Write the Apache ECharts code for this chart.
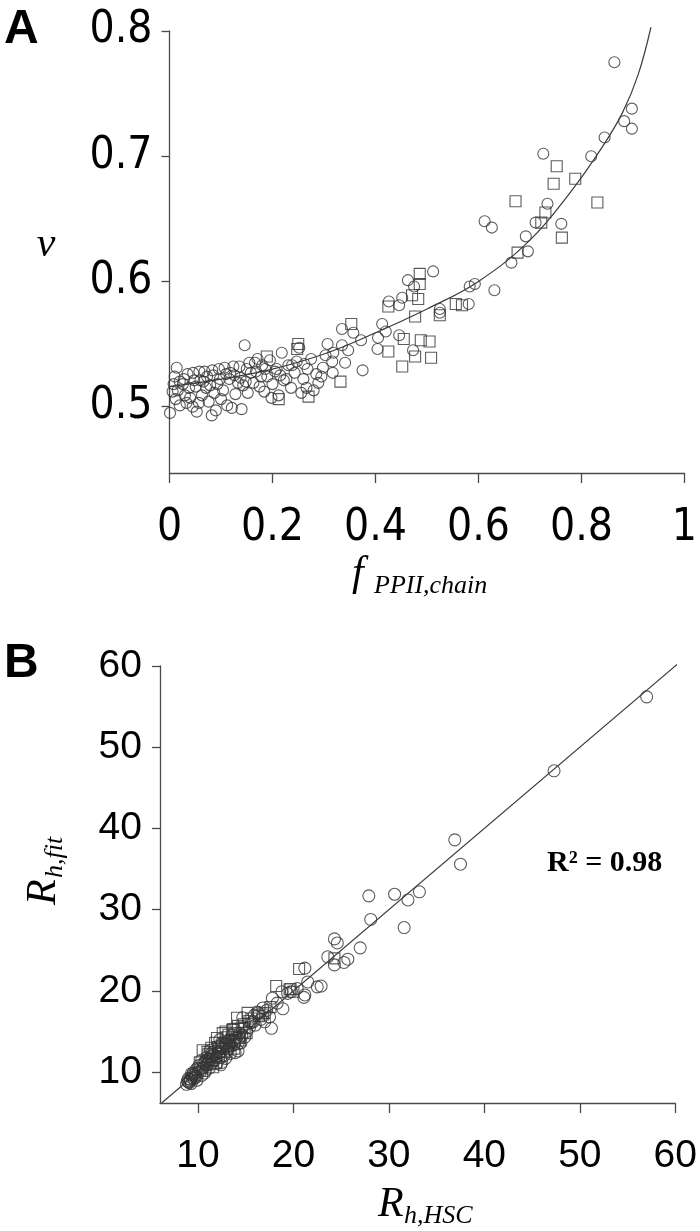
<!DOCTYPE html>
<html>
<head>
<meta charset="utf-8">
<script src="https://cdn.jsdelivr.net/npm/echarts@6/dist/echarts.min.js"></script>
<style>
html,body{margin:0;padding:0;background:#fff;}
#chart{width:700px;height:1231px;}
</style>
</head>
<body>
<div id="chart"></div>
<script>
// ---------- Panel A data: nu vs f_PPII,chain ----------
const panelA_circles = [
 [0.001,0.495],[0.014,0.531],[0.010,0.524],[0.006,0.512],[0.012,0.506],[0.020,0.520],[0.026,0.518],[0.035,0.526],
 [0.040,0.507],[0.046,0.527],[0.053,0.496],[0.051,0.516],[0.058,0.528],[0.063,0.509],[0.068,0.528],[0.071,0.515],
 [0.076,0.504],[0.082,0.493],[0.083,0.529],[0.087,0.511],[0.093,0.518],[0.096,0.530],[0.100,0.506],[0.104,0.513],
 [0.107,0.531],[0.112,0.501],[0.116,0.522],[0.121,0.499],[0.124,0.532],[0.128,0.510],[0.133,0.519],[0.136,0.532],
 [0.140,0.498],[0.143,0.517],[0.146,0.549],[0.150,0.530],[0.152,0.511],[0.158,0.527],[0.163,0.519],[0.166,0.535],
 [0.171,0.538],[0.175,0.516],[0.180,0.533],[0.184,0.512],[0.190,0.524],[0.195,0.537],[0.200,0.518],[0.205,0.528],
 [0.208,0.530],[0.212,0.509],[0.218,0.543],[0.222,0.521],[0.227,0.522],[0.231,0.533],[0.236,0.515],[0.243,0.527],
 [0.247,0.536],[0.252,0.547],[0.256,0.511],[0.260,0.522],[0.266,0.515],[0.268,0.530],[0.275,0.538],[0.285,0.526],
 [0.289,0.519],[0.295,0.524],[0.303,0.541],[0.307,0.550],[0.316,0.536],[0.317,0.527],[0.318,0.543],[0.335,0.549],
 [0.335,0.562],[0.341,0.535],[0.347,0.545],[0.357,0.559],[0.372,0.553],[0.375,0.529],[0.404,0.546],[0.405,0.555],
 [0.413,0.566],[0.420,0.560],[0.426,0.584],[0.446,0.581],[0.446,0.557],[0.452,0.587],[0.463,0.601],[0.473,0.545],
 [0.475,0.596],[0.512,0.608],[0.525,0.578],[0.525,0.575],[0.581,0.582],[0.583,0.596],[0.593,0.598],[0.612,0.648],
 [0.626,0.643],[0.631,0.593],[0.664,0.615],[0.692,0.636],[0.696,0.624],[0.711,0.647],[0.726,0.702],[0.734,0.662],
 [0.761,0.646],[0.819,0.700],[0.845,0.715],[0.864,0.775],[0.883,0.728],[0.898,0.738],[0.898,0.722],
 [0.020,0.501],[0.030,0.509],[0.045,0.500],[0.090,0.497],[0.060,0.521],[0.118,0.527],[0.178,0.524],[0.198,0.507],
 [0.008,0.518],[0.016,0.513],[0.028,0.522],[0.038,0.515],[0.048,0.521],[0.066,0.520],[0.073,0.524],[0.079,0.517],
 [0.085,0.525],[0.098,0.522],[0.110,0.526],[0.126,0.525],[0.138,0.523],[0.148,0.520],[0.155,0.535],[0.168,0.528],
 [0.186,0.530],[0.215,0.525],[0.238,0.533],[0.262,0.534],[0.280,0.513],[0.298,0.531],[0.033,0.503],[0.057,0.503]
];
const panelA_squares = [
 [0.189,0.540],[0.212,0.506],[0.250,0.550],[0.248,0.546],[0.270,0.508],[0.332,0.520],[0.353,0.566],[0.425,0.580],
 [0.425,0.544],[0.455,0.554],[0.452,0.532],[0.471,0.589],[0.477,0.572],[0.477,0.540],[0.483,0.586],[0.486,0.606],
 [0.486,0.598],[0.488,0.553],[0.505,0.552],[0.508,0.539],[0.525,0.573],[0.556,0.582],[0.568,0.581],[0.672,0.664],
 [0.676,0.623],[0.722,0.647],[0.730,0.655],[0.746,0.678],[0.752,0.692],[0.762,0.635],[0.788,0.682],[0.831,0.663]
];
const panelA_fitF  = [0, 0.1, 0.2, 0.3, 0.4, 0.5, 0.6, 0.7, 0.78, 0.84, 0.88, 0.91, 0.935];
const panelA_fitNu = [0.516, 0.522, 0.530, 0.542, 0.559, 0.578, 0.600, 0.633, 0.672, 0.707, 0.735, 0.765, 0.803];
const panelA_xTicks = [0, 0.2, 0.4, 0.6, 0.8, 1];
const panelA_xLabels = ['0', '0.2', '0.4', '0.6', '0.8', '1'];
const panelA_yTicks = [0.5, 0.6, 0.7, 0.8];
const panelA_yLabels = ['0.5', '0.6', '0.7', '0.8'];

// ---------- Panel B data: R_h,fit vs R_h,HSC ----------
const panelB_circles = [
 [57.0,56.2],[47.3,47.1],[36.9,38.6],[37.5,35.6],[27.9,31.7],[30.6,31.9],[32.0,31.2],[33.2,32.2],[28.1,28.8],
 [31.6,27.8],[24.3,26.4],[24.6,25.9],[27.0,25.3],[23.6,24.2],[24.3,23.2],[25.7,23.9],[21.2,22.8],[21.5,21.1],
 [22.5,20.5],[22.9,20.6],[21.2,19.5],[19.4,19.7],[21.1,19.2],[18.8,19.9],[17.8,19.1],[18.3,18.5],[17.7,15.4],
 [17.5,16.8],[16.8,17.9],[16.2,17.4],[14.7,16.7],[15.8,16.2],[15.4,15.5],[14.4,14.8],[14.2,12.6],[12.5,11.2],
 [13.1,12.7],[13.7,13.9],[11.3,12.7],[10.9,11.8],[10.4,11.5],[11.0,10.9],[10.5,10.5],[10.0,10.0],[9.7,9.5],
 [9.4,9.3],[9.0,8.8],[8.8,8.5],[12.0,11.1],[9.9,9.0],[9.5,9.9],[10.4,9.6],[13.3,13.3],[16.3,17.3],[9.2,9.1],
 [9.1,8.7],[8.9,8.9],[9.3,8.6],[9.6,9.2],[10.2,10.4],[10.8,10.2],[11.2,11.6],[11.6,12.1],[11.9,11.8],[12.3,12.4],
 [12.7,12.0],[13.0,13.1],[13.4,12.3],[13.8,13.4],[14.0,14.2],[14.5,13.6],[15.1,15.0],[15.6,16.1],[16.0,15.8],
 [16.6,16.5],[17.2,17.6],[13.6,14.6],[12.2,13.2],[11.4,11.0],[10.6,11.1],[10.1,10.8],[9.8,10.3],[11.8,12.6],
 [12.9,11.7],[14.9,14.3],[15.9,17.0],[17.0,16.2],[18.9,17.8],[19.8,19.9],[20.4,20.3],[25.3,23.5],
 [9.0,9.2],[9.2,8.9],[9.4,9.6],[9.6,9.7],[9.8,9.4],[10.0,10.5],[10.3,10.1],[10.6,10.6],[10.8,11.4],[11.1,11.3],
 [11.3,11.9],[11.5,12.4],[11.7,11.4],[12.0,12.4],[12.4,11.8],[12.6,13.0],[12.9,13.4],[13.2,12.9],[13.5,13.2],
 [13.9,13.7],[14.2,13.5],[14.6,14.5],[10.7,9.9],[11.2,10.5],[12.4,10.9],[13.9,12.4],[12.3,14.0],[9.3,9.8]
];
const panelB_squares = [
 [20.6,22.7],[24.3,24.0],[19.6,20.2],[18.2,20.6],[19.7,20.2],[17.0,17.3],[15.2,17.3],[14.1,16.7],[14.6,15.5],
 [13.6,15.2],[12.8,13.6],[12.0,14.2],[13.0,14.3],[12.1,13.1],[10.5,12.7],[11.5,11.5],[11.6,10.6],[13.0,12.5],
 [14.4,13.9],[15.1,14.8],[11.1,12.2],[12.4,12.9],[13.3,13.8],[13.9,14.8],[14.8,15.9],[11.8,13.6],[12.6,14.8],
 [13.5,14.0],[10.9,11.0],[12.2,12.0],[13.8,12.9],[15.6,16.6],[16.4,16.9],[17.6,18.0],[14.2,15.7],[20.0,19.9],
 [10.2,11.2],[11.0,12.5],[11.4,13.0],[12.5,13.3],[13.2,14.6],[13.7,15.3],[12.9,15.0],[14.3,14.2],[14.9,15.4],
 [15.4,16.3],[16.8,17.1],[11.9,11.1]
];
const panelB_fitX = [6.2, 61.0];
const panelB_fitY = [6.2, 61.0];
const panelB_ticks = [10, 20, 30, 40, 50, 60];
const panelB_labels = ['10', '20', '30', '40', '50', '60'];

const AX = '#4a4a4a';
const MK = '#333333';
const narrowFont = "'Liberation Sans Narrow','Arial Narrow','DejaVu Sans Condensed','Liberation Sans',sans-serif";
const sansFont = "'Liberation Sans',Arial,Helvetica,sans-serif";
const serifFont = "'Liberation Serif','Times New Roman',serif";

function lbl(ticks, labels){
  return v => { const i = ticks.findIndex(t => Math.abs(t - v) < 1e-9); return i >= 0 ? labels[i] : ''; };
}
function axisBase(extra){
  return Object.assign({
    type: 'value',
    splitLine: {show: false},
    axisLine: {show: true, onZero: false, lineStyle: {color: AX, width: 1.3}},
  }, extra);
}

const chart = echarts.init(document.getElementById('chart'), null, {renderer: 'canvas'});
const scatterStyle = {color: 'rgba(0,0,0,0)', borderColor: MK, borderWidth: 1.1};

chart.setOption({
  animation: false,
  backgroundColor: '#fff',
  grid: [
    {left: 169.5, top: 31, width: 517.5, height: 442},
    {left: 160, top: 666, width: 516, height: 437}
  ],
  xAxis: [
    axisBase({gridIndex: 0, min: 0, max: 1,
      axisTick: {show: true, length: 10, customValues: panelA_xTicks, lineStyle: {color: AX, width: 1.3}},
      axisLabel: {customValues: panelA_xTicks, formatter: lbl(panelA_xTicks, panelA_xLabels), margin: 34,
        fontSize: 44, fontFamily: narrowFont, color: '#000'}}),
    axisBase({gridIndex: 1, min: 6.03, max: 60,
      axisTick: {show: true, length: 10, customValues: panelB_ticks, lineStyle: {color: AX, width: 1.3}},
      axisLabel: {customValues: panelB_ticks, formatter: lbl(panelB_ticks, panelB_labels), margin: 34,
        fontSize: 39, fontFamily: sansFont, color: '#000'}})
  ],
  yAxis: [
    axisBase({gridIndex: 0, min: 0.447, max: 0.8,
      axisTick: {show: true, length: 8, customValues: panelA_yTicks, lineStyle: {color: AX, width: 1.3}},
      axisLabel: {customValues: panelA_yTicks, formatter: lbl(panelA_yTicks, panelA_yLabels), margin: 17,
        fontSize: 44, fontFamily: narrowFont, color: '#000'}}),
    axisBase({gridIndex: 1, min: 6.2, max: 60,
      axisTick: {show: true, length: 8, customValues: panelB_ticks, lineStyle: {color: AX, width: 1.3}},
      axisLabel: {customValues: panelB_ticks, formatter: lbl(panelB_ticks, panelB_labels), margin: 18,
        fontSize: 39, fontFamily: sansFont, color: '#000'}})
  ],
  series: [
    {type: 'scatter', xAxisIndex: 0, yAxisIndex: 0, data: panelA_circles, symbol: 'circle', symbolSize: 11,
      itemStyle: scatterStyle, emphasis: {disabled: true}, silent: true},
    {type: 'scatter', xAxisIndex: 0, yAxisIndex: 0, data: panelA_squares, symbol: 'rect', symbolSize: 11,
      itemStyle: scatterStyle, emphasis: {disabled: true}, silent: true},
    {type: 'line', xAxisIndex: 0, yAxisIndex: 0, data: panelA_fitF.map((f, i) => [f, panelA_fitNu[i]]),
      smooth: 0.4, showSymbol: false, symbol: 'none', clip: false, lineStyle: {color: '#3c3c3c', width: 1.2}, silent: true},
    {type: 'scatter', xAxisIndex: 1, yAxisIndex: 1, data: panelB_circles, symbol: 'circle', symbolSize: 12,
      itemStyle: scatterStyle, emphasis: {disabled: true}, silent: true},
    {type: 'scatter', xAxisIndex: 1, yAxisIndex: 1, data: panelB_squares, symbol: 'rect', symbolSize: 11,
      itemStyle: scatterStyle, emphasis: {disabled: true}, silent: true},
    {type: 'line', xAxisIndex: 1, yAxisIndex: 1, data: panelB_fitX.map((x, i) => [x, panelB_fitY[i]]),
      showSymbol: false, symbol: 'none', clip: false, lineStyle: {color: '#3c3c3c', width: 1.2}, silent: true}
  ],
  graphic: [
    {type: 'text', left: 4, top: 6, style: {text: 'A', font: 'bold 48px ' + sansFont, fill: '#000'}},
    {type: 'text', left: 4, top: 640, style: {text: 'B', font: 'bold 48px ' + sansFont, fill: '#000'}},
    {type: 'text', x: 46, y: 245, style: {text: 'ν', font: 'italic 42px ' + serifFont, fill: '#000', align: 'center', verticalAlign: 'middle'}},
    {type: 'text', x: 352, y: 574, style: {text: 'f', font: 'italic 42px ' + serifFont, fill: '#000', align: 'left', verticalAlign: 'middle'}},
    {type: 'text', x: 374, y: 586, style: {text: 'PPII,chain', font: 'italic 26px ' + serifFont, fill: '#000', align: 'left', verticalAlign: 'middle'}},
    {type: 'text', x: 378, y: 1205, style: {text: 'R', font: 'italic 42px ' + serifFont, fill: '#000', align: 'left', verticalAlign: 'middle'}},
    {type: 'text', x: 404, y: 1216, style: {text: 'h,HSC', font: 'italic 26px ' + serifFont, fill: '#000', align: 'left', verticalAlign: 'middle'}},
    {type: 'text', x: 44, y: 905, rotation: Math.PI / 2, style: {text: 'R', font: 'italic 42px ' + serifFont, fill: '#000', align: 'left', verticalAlign: 'middle'}},
    {type: 'text', x: 55, y: 878, rotation: Math.PI / 2, style: {text: 'h,fit', font: 'italic 26px ' + serifFont, fill: '#000', align: 'left', verticalAlign: 'middle'}},
    {type: 'text', x: 547, y: 863, style: {text: 'R² = 0.98', font: 'bold 30px ' + serifFont, fill: '#000', align: 'left', verticalAlign: 'middle'}}
  ]
});
</script>
</body>
</html>
